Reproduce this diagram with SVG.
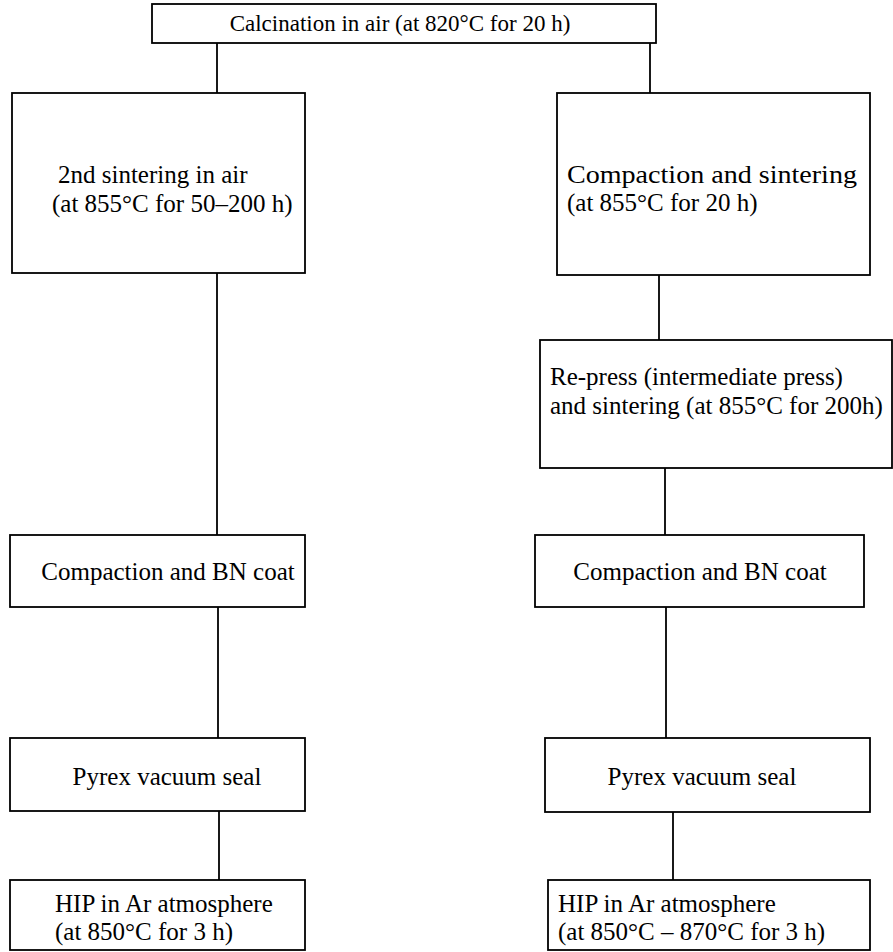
<svg xmlns="http://www.w3.org/2000/svg" width="893" height="952" viewBox="0 0 893 952">
<style>
.box{fill:#fff;stroke:#000;stroke-width:1.8}
.ln{stroke:#000;stroke-width:1.8;fill:none}
.c{text-anchor:middle}
</style>
<rect width="893" height="952" fill="#fff"/>
<g id="connectors">
<line class="ln" x1="217" y1="43" x2="217" y2="93"/>
<line class="ln" x1="650" y1="43" x2="650" y2="93"/>
<line class="ln" x1="217" y1="273" x2="217" y2="535"/>
<line class="ln" x1="659" y1="275" x2="659" y2="340"/>
<line class="ln" x1="665" y1="468" x2="665" y2="535"/>
<line class="ln" x1="218" y1="607" x2="218" y2="738"/>
<line class="ln" x1="666" y1="607" x2="666" y2="738"/>
<line class="ln" x1="219" y1="811" x2="219" y2="880"/>
<line class="ln" x1="673" y1="812" x2="673" y2="880"/>
</g>
<g font-family="'Liberation Serif', 'DejaVu Serif', serif" font-size="25" fill="#000">
<g id="calcination">
<rect class="box" x="152" y="4" width="504" height="39"/>
<text class="c" x="400" y="31" font-size="23">Calcination in air (at 820°C for 20 h)</text>
</g>
<g id="second-sintering">
<rect class="box" x="12" y="93" width="293" height="180"/>
<text x="58" y="183">2nd sintering in air</text>
<text x="52" y="212">(at 855°C for 50–200 h)</text>
</g>
<g id="compaction-sintering">
<rect class="box" x="557" y="93" width="313" height="182"/>
<text x="567" y="183" textLength="290" lengthAdjust="spacingAndGlyphs">Compaction and sintering</text>
<text x="567" y="211">(at 855°C for 20 h)</text>
</g>
<g id="repress">
<rect class="box" x="540" y="340" width="352" height="128"/>
<text x="550" y="385">Re-press (intermediate press)</text>
<text x="550" y="414">and sintering (at 855°C for 200h)</text>
</g>
<g id="bn-left">
<rect class="box" x="10" y="535" width="295" height="72"/>
<text class="c" x="168" y="580">Compaction and BN coat</text>
</g>
<g id="bn-right">
<rect class="box" x="535" y="535" width="329" height="72"/>
<text class="c" x="700" y="580">Compaction and BN coat</text>
</g>
<g id="pyrex-left">
<rect class="box" x="10" y="738" width="295" height="73"/>
<text class="c" x="167" y="785">Pyrex vacuum seal</text>
</g>
<g id="pyrex-right">
<rect class="box" x="545" y="738" width="325" height="74"/>
<text class="c" x="702" y="785">Pyrex vacuum seal</text>
</g>
<g id="hip-left">
<rect class="box" x="10" y="880" width="295" height="70"/>
<text x="55" y="912">HIP in Ar atmosphere</text>
<text x="55" y="940">(at 850°C for 3 h)</text>
</g>
<g id="hip-right">
<rect class="box" x="548" y="880" width="322" height="70"/>
<text x="558" y="912">HIP in Ar atmosphere</text>
<text x="558" y="940">(at 850°C – 870°C for 3 h)</text>
</g>
</g>
</svg>
